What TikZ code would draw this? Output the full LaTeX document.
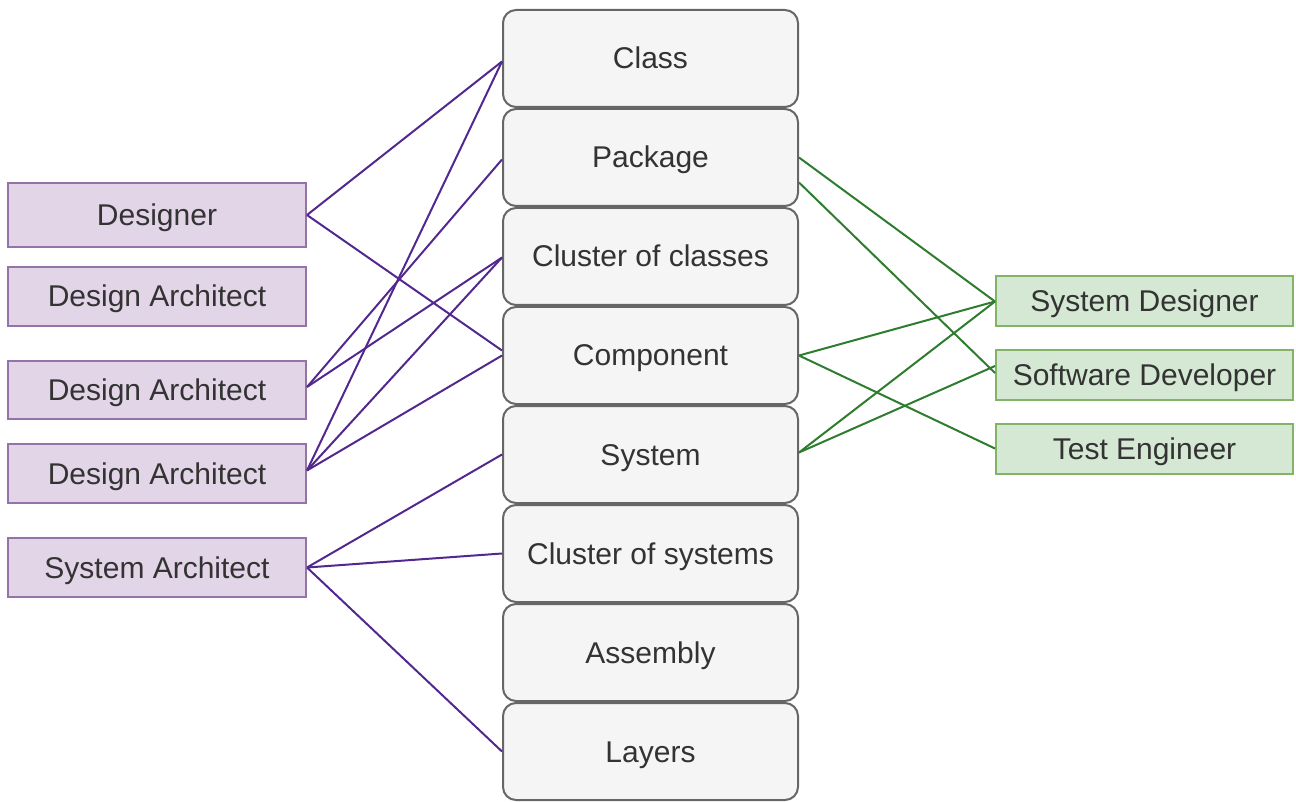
\documentclass[tikz,border=0pt]{standalone}
\usepackage{fontspec}
\setmainfont{Liberation Sans}
\definecolor{txt}{HTML}{333333}
\definecolor{purfill}{HTML}{E1D5E7}
\definecolor{purdraw}{HTML}{9673A6}
\definecolor{purline}{HTML}{52288F}
\definecolor{grnfill}{HTML}{D5E8D4}
\definecolor{grndraw}{HTML}{82B366}
\definecolor{grnline}{HTML}{2E7D2E}
\definecolor{midfill}{HTML}{F5F5F5}
\definecolor{middraw}{HTML}{666666}
\begin{document}
\begin{tikzpicture}[x=1pt,y=-1pt,
  every node/.style={font=\fontsize{30}{35}\selectfont, text=txt, inner sep=0pt, text height=27pt, text depth=6pt},
  midbox/.style={draw=middraw, fill=midfill, line width=2pt, rounded corners=13pt, minimum width=295pt, minimum height=97pt},
  rolebox/.style={draw=purdraw, fill=purfill, line width=2pt, minimum width=298pt},
  devbox/.style={draw=grndraw, fill=grnfill, line width=2pt, minimum width=297pt, minimum height=50pt},
  pl/.style={draw=purline, line width=2pt},
  gl/.style={draw=grnline, line width=2pt}]
\useasboundingbox (0,0) rectangle (1296,802);
% center column
\node[midbox] (cls)  at (650.5,58.5)  {Class};
\node[midbox] (pkg)  at (650.5,157.5) {Package};
\node[midbox] (clc)  at (650.5,256.5) {Cluster of classes};
\node[midbox] (comp) at (650.5,355.5) {Component};
\node[midbox] (sys)  at (650.5,454.5) {System};
\node[midbox] (cls2) at (650.5,553.5) {Cluster of systems};
\node[midbox] (asm)  at (650.5,652.5) {Assembly};
\node[midbox] (lay)  at (650.5,751.5) {Layers};
% left roles
\node[rolebox, minimum height=64pt] (des) at (157,215)   {Designer};
\node[rolebox, minimum height=59pt] (da1) at (157,296.5) {Design Architect};
\node[rolebox, minimum height=58pt] (da2) at (157,390)   {Design Architect};
\node[rolebox, minimum height=59pt] (da3) at (157,473.5) {Design Architect};
\node[rolebox, minimum height=59pt] (sa)  at (157,567.5) {System Architect};
% right roles
\node[devbox] (sd)  at (1144.5,301.5) {System Designer};
\node[devbox] (swd) at (1144.5,375)   {Software Developer};
\node[devbox] (te)  at (1144.5,448.5) {Test Engineer};
% purple connectors
\draw[pl] (des.east) -- ([yshift=-3pt]cls.west);
\draw[pl] (des.east) -- ([yshift=5pt]comp.west);
\draw[pl] ([yshift=3pt]da2.east) -- ([yshift=-2pt]pkg.west);
\draw[pl] ([yshift=3pt]da2.east) -- ([yshift=-1pt]clc.west);
\draw[pl] ([yshift=3pt]da3.east) -- ([yshift=-3pt]cls.west);
\draw[pl] ([yshift=3pt]da3.east) -- ([yshift=-1pt]clc.west);
\draw[pl] ([yshift=3pt]da3.east) -- (comp.west);
\draw[pl] (sa.east) -- (sys.west);
\draw[pl] (sa.east) -- (cls2.west);
\draw[pl] (sa.east) -- (lay.west);
% green connectors
\draw[gl] (pkg.east) -- (sd.west);
\draw[gl] ([yshift=-25pt]pkg.east) -- ([yshift=2pt]swd.west);
\draw[gl] (comp.east) -- (sd.west);
\draw[gl] (comp.east) -- (te.west);
\draw[gl] ([yshift=2pt]sys.east) -- (sd.west);
\draw[gl] ([yshift=2pt]sys.east) -- ([yshift=9pt]swd.west);
\end{tikzpicture}
\end{document}
